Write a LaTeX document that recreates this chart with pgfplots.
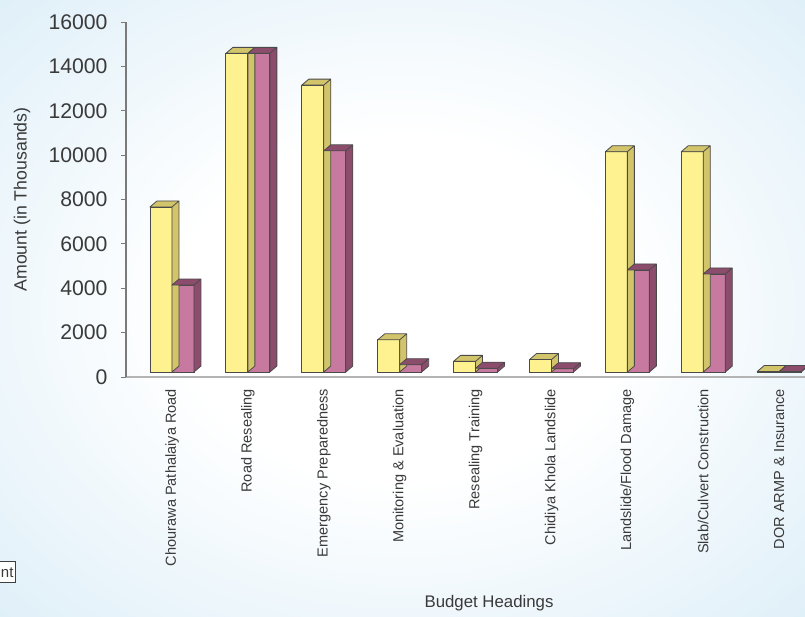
\documentclass[border=0pt]{standalone}
\usepackage{pgfplots}
\pgfplotsset{compat=1.18}
\usepackage{pgfplotstable}
\usepackage{fontspec}
\setmainfont{Liberation Sans}

\definecolor{yelfront}{HTML}{FDF28F}
\definecolor{yelside}{HTML}{D2C46A}
\definecolor{pinkfront}{HTML}{C8799F}
\definecolor{pinkside}{HTML}{8C4D6D}
\definecolor{barline}{HTML}{4A4A4A}
\definecolor{axisgray}{HTML}{B4B4B4}
\definecolor{spinegray}{HTML}{7A7A7A}
\definecolor{txt}{HTML}{3A3A3A}
\definecolor{bgblue}{HTML}{C4E2F3}

\pgfdeclareradialshading{bgglow}{\pgfpoint{0bp}{0bp}}{%
  color(0bp)=(white); color(14bp)=(white); color(34bp)=(bgblue!50!white);
  color(50bp)=(bgblue!85!white); color(72bp)=(bgblue)}

% budget per heading, in thousands
\pgfplotstableread{
idx yellow pink
0   7440  3920
1   14360 14360
2   12930 9970
3   1450  330
4   480   170
5   560   150
6   9930  4600
7   9930  4420
8   20    20
}\budget

% empty mark: the scatter code draws the depth faces itself
\pgfdeclareplotmark{blank}{}

\pgfplotsset{
  barfaces/.style n args={3}{% left edge, right edge, face colour
    only marks, mark=blank, scatter,
    point meta=y, point meta min=0, point meta max=16000,
    scatter/@pre marker code/.code={%
      \pgfmathsetmacro\barh{\pgfplotspointmetatransformed*0.1775}%
      \filldraw[fill=#3, draw=barline, line width=0.4pt, line join=round]
        (#2,2.5pt-\barh pt) -- ++(3.5pt,3pt) -- ++(0pt,\barh pt) -- (#2,2.5pt) -- cycle
        (#1,2.5pt) -- ++(3.5pt,3pt) -- (#2+3.5pt,5.5pt) -- (#2,2.5pt) -- cycle;
    },
    scatter/@post marker code/.code={},
  },
}

\begin{document}
\begin{tikzpicture}
\path[use as bounding box] (0,0) rectangle (402.5pt,308.5pt);
\shade[shading=bgglow] (0,0) rectangle (402.5pt,308.5pt);

\node[draw=black!75, fill=white, line width=0.5pt, inner sep=1pt, minimum height=10.5pt,
      anchor=east, text=txt, font=\fontsize{7.5}{8}\selectfont] at (8pt,22.3pt) {nt};

\begin{axis}[
  at={(63pt,120pt)}, anchor=south west,
  scale only axis, width=339.5pt, height=177.5pt,
  xmin=-0.606, xmax=8.34, ymin=0, ymax=16000,
  clip=false,
  axis x line=bottom, axis y line=left,
  x axis line style={-, draw=axisgray, line width=1.3pt},
  y axis line style={-, draw=spinegray, line width=0.6pt},
  ytick={0,2000,...,16000},
  scaled y ticks=false,
  xtick={0,...,8},
  xticklabels={Chourawa Pathalaiya Road, Road Resealing, Emergency Preparedness,
    Monitoring \& Evaluation, Resealing Training, Chidiya Khola Landslide,
    Landslide/Flood Damage, Slab/Culvert Construction, DOR ARMP \& Insurance},
  xtick style={draw=none},
  ytick style={draw=spinegray, line width=0.5pt},
  tick align=outside, major tick length=2.5pt,
  yticklabel style={font=\fontsize{10.6}{12}\selectfont, text=txt, xshift=-3.2pt},
  xticklabel style={rotate=90, anchor=east, font=\fontsize{7.27}{8}\selectfont, text=txt},
  /pgf/number format/1000 sep={},
  /pgf/number format/assume math mode=true,
  xlabel={Budget Headings},
  ylabel={Amount (in Thousands)},
  every axis x label/.style={at={(axis description cs:0.5346,-0.637)}, anchor=center,
    font=\fontsize{8.4}{10}\selectfont, text=txt},
  every axis y label/.style={at={(axis description cs:-0.153,0.5)}, anchor=center, rotate=90,
    font=\fontsize{8.85}{10}\selectfont, text=txt},
]
\addplot[ybar, bar width=11pt, bar shift=-5.5pt, fill=yelfront, draw=barline,
  line width=0.4pt, yshift=2.5pt] table[x=idx, y=yellow] {\budget};
\addplot[barfaces={-11pt}{0pt}{yelside}] table[x=idx, y=yellow] {\budget};
\addplot[ybar, bar width=11pt, bar shift=5.5pt, fill=pinkfront, draw=barline,
  line width=0.4pt, yshift=2.5pt] table[x=idx, y=pink] {\budget};
\addplot[barfaces={0pt}{11pt}{pinkside}] table[x=idx, y=pink] {\budget};
\end{axis}
\end{tikzpicture}
\end{document}
